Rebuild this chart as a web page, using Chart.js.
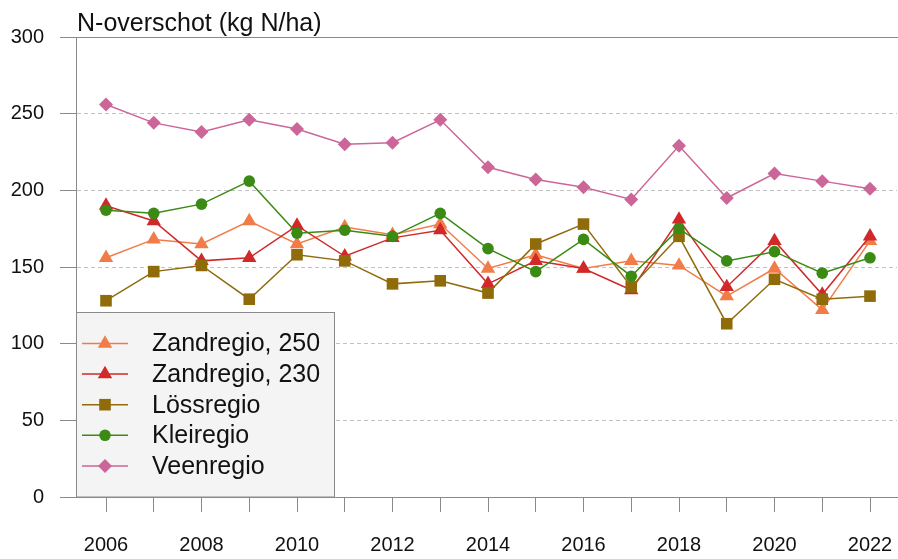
<!DOCTYPE html>
<html>
<head>
<meta charset="utf-8">
<script src="https://cdn.jsdelivr.net/npm/chart.js@4/dist/chart.umd.min.js"></script>
<style>
  html, body { margin: 0; padding: 0; background: #fff; }
  #wrap { width: 898px; height: 559px; }
</style>
</head>
<body>
<div id="wrap"><canvas id="chart" width="898" height="559"></canvas></div>
<script>
// jaren en waarden (kg N/ha)
const years = [2006, 2007, 2008, 2009, 2010, 2011, 2012, 2013, 2014, 2015, 2016, 2017, 2018, 2019, 2020, 2021, 2022];
const zand250 = [156, 168, 165, 180, 165, 176, 171, 178, 149, 158, 149, 154, 151, 131, 149, 122, 167];
const zand230 = [190, 180, 154, 156, 177, 157, 169, 174, 139, 154, 149, 135, 181, 137, 167, 132, 170];
const loss    = [128, 147, 151, 129, 158, 154, 139, 141, 133, 165, 178, 137, 170, 113, 142, 129, 131];
const klei    = [187, 185, 191, 206, 172, 174, 170, 185, 162, 147, 168, 144, 175, 154, 160, 146, 156];
const veen    = [256, 244, 238, 246, 240, 230, 231, 246, 215, 207, 202, 194, 229, 195, 211, 206, 201];
const yTicks  = [0, 50, 100, 150, 200, 250, 300];
const titleText = 'N-overschot (kg N/ha)';

const FONT = "'Liberation Sans', Arial, Helvetica, sans-serif";
const AXIS = '#8a8a8a';

// volgorde = legenda-volgorde; laatste reeks ligt bovenop
const series = [
    { label: 'Zandregio, 250', data: zand250, color: '#F17C48', style: 'triangle', r: 8.3 },
    { label: 'Zandregio, 230', data: zand230, color: '#D1292A', style: 'triangle', r: 8.3 },
    { label: 'Lössregio',      data: loss,    color: '#8F6B0A', style: 'rect',     r: 8.2 },
    { label: 'Kleiregio',      data: klei,    color: '#3B8A13', style: 'circle',   r: 5.8 },
    { label: 'Veenregio',      data: veen,    color: '#CC6699', style: 'rectRot',  r: 7 }
];

const datasets = series.map((s, i) => ({
    label: s.label,
    data: s.data.map((v, j) => ({ x: years[j], y: v })),
    borderColor: s.color,
    backgroundColor: s.color,
    borderWidth: 1.5,
    pointStyle: s.style,
    pointRadius: s.r,
    pointHoverRadius: s.r,
    pointBackgroundColor: s.color,
    pointBorderWidth: 0,
    tension: 0,
    order: series.length - i
}));

// titel + legenda in de plot (zoals het origineel)
const overlay = {
    id: 'overlay',
    afterDraw(chart) {
        const { ctx, chartArea } = chart;
        ctx.save();
        ctx.fillStyle = '#111';
        ctx.font = '25px ' + FONT;
        ctx.textAlign = 'left';
        ctx.textBaseline = 'alphabetic';
        ctx.fillText(titleText, chartArea.left + 1, 31);

        const bx = chartArea.left + 0.5, by = 312.5, bw = 258, bh = chartArea.bottom - 312.5;
        ctx.fillStyle = '#F4F4F4';
        ctx.fillRect(bx, by, bw, bh);
        ctx.strokeStyle = AXIS;
        ctx.lineWidth = 1;
        ctx.strokeRect(bx, by, bw, bh);

        series.forEach((s, i) => {
            const y = 343.5 + i * 30.6;
            ctx.strokeStyle = s.color;
            ctx.lineWidth = 1.5;
            ctx.beginPath();
            ctx.moveTo(82, y);
            ctx.lineTo(128, y);
            ctx.stroke();
            ctx.fillStyle = s.color;
            Chart.helpers.drawPoint(ctx, { pointStyle: s.style, radius: s.r, borderWidth: 0, rotation: 0 }, 105, y);
            ctx.fillStyle = '#111';
            ctx.font = '25px ' + FONT;
            ctx.textBaseline = 'middle';
            ctx.fillText(s.label, 152, y + 1);
        });
        ctx.restore();
    }
};

const xMin = 2006 - 30 / 47.75;
const xMax = 2022 + 27 / 47.75;

new Chart(document.getElementById('chart'), {
    type: 'line',
    data: { datasets },
    options: {
        responsive: false,
        animation: false,
        events: [],
        layout: { autoPadding: false, padding: { top: 37, right: 1, left: 0, bottom: 0 } },
        plugins: { legend: { display: false }, title: { display: false }, tooltip: { enabled: false } },
        scales: {
            x: {
                type: 'linear',
                min: xMin,
                max: xMax,
                afterBuildTicks: (scale) => { scale.ticks = years.map(v => ({ value: v })); },
                afterFit: (scale) => { scale.height = 62; scale.paddingLeft = 0; scale.paddingRight = 0; },
                ticks: {
                    autoSkip: false,
                    maxRotation: 0,
                    padding: 21,
                    color: '#111',
                    font: { family: FONT, size: 20 },
                    callback: (v) => (v % 2 === 0 ? String(v) : '')
                },
                grid: { drawOnChartArea: false, drawTicks: true, tickLength: 15, tickColor: AXIS, tickWidth: 1 },
                border: { display: true, color: AXIS, width: 1 }
            },
            xTop: {
                type: 'linear',
                position: 'top',
                min: xMin,
                max: xMax,
                afterFit: (scale) => { scale.height = 0; scale.paddingLeft = 0; scale.paddingRight = 0; },
                ticks: { display: false },
                grid: { display: false },
                border: { display: true, color: AXIS, width: 1 }
            },
            y: {
                min: 0,
                max: 300,
                afterBuildTicks: (scale) => { scale.ticks = yTicks.map(v => ({ value: v })); },
                afterFit: (scale) => { scale.width = 76; scale.paddingTop = 0; scale.paddingBottom = 0; },
                ticks: {
                    padding: 16,
                    color: '#111',
                    font: { family: FONT, size: 20 }
                },
                grid: {
                    color: (c) => (c.tick && (c.tick.value === 0 || c.tick.value === 300) ? 'rgba(0,0,0,0)' : '#c2c2c2'),
                    lineWidth: 1,
                    tickLength: 16,
                    tickColor: AXIS,
                    tickWidth: 1,
                    tickBorderDash: []
                },
                border: { display: true, color: AXIS, width: 1, dash: [4, 3] }
            }
        }
    },
    plugins: [overlay]
});
</script>
</body>
</html>
